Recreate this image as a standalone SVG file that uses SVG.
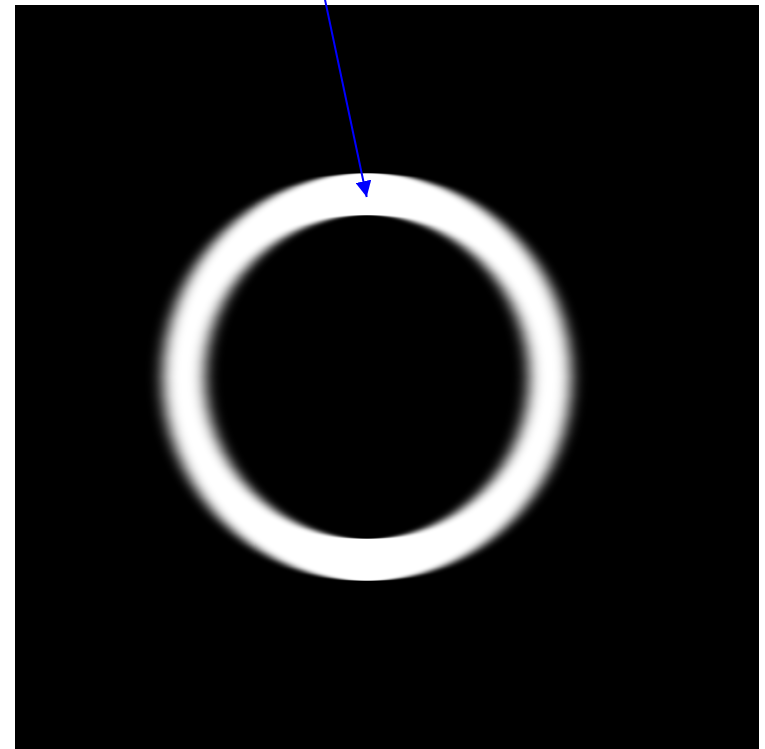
<svg xmlns="http://www.w3.org/2000/svg" width="765" height="749" viewBox="0 0 765 749">
  <defs>
    <filter id="hblur" x="-20%" y="-20%" width="140%" height="140%">
      <feGaussianBlur stdDeviation="7.5 0"/>
    </filter>
    <marker id="arrow" markerWidth="16" markerHeight="16" refX="16" refY="8" orient="auto" markerUnits="userSpaceOnUse">
      <path d="M0,0 L16,8 L0,16 Z" fill="#0000ff"/>
    </marker>
  </defs>
  <rect x="0" y="0" width="765" height="749" fill="#ffffff"/>
  <g id="background">
    <rect x="15" y="5" width="744" height="744" fill="#000000"/>
  </g>
  <g id="ring">
    <circle cx="367" cy="377" r="183" fill="none" stroke="#ffffff" stroke-width="42" filter="url(#hblur)"/>
  </g>
  <g id="connectors">
    <line x1="324" y1="-5" x2="366.7" y2="197" stroke="#0000ff" stroke-width="2" marker-end="url(#arrow)"/>
  </g>
</svg>
